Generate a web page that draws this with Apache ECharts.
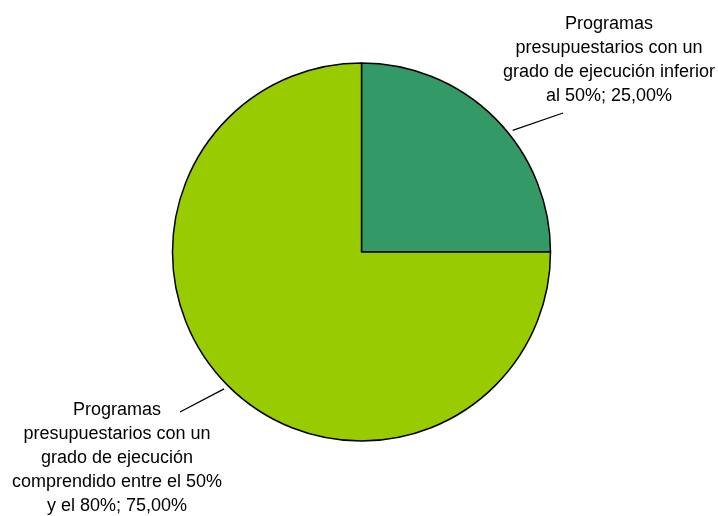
<!DOCTYPE html>
<html>
<head>
<meta charset="utf-8">
<script src="https://cdn.jsdelivr.net/npm/echarts@6/dist/echarts.min.js"></script>
<style>html,body{margin:0;padding:0;background:#fff;}#c{width:718px;height:516px;}</style>
</head>
<body>
<div id="c"></div>
<script>
const categories = [
  'Programas\npresupuestarios con un\ngrado de ejecución inferior\nal 50%',
  'Programas\npresupuestarios con un\ngrado de ejecución\ncomprendido entre el 50%\ny el 80%'
];
const values = [25.00, 75.00];
const colors = ['#339966', '#99CC00'];

const CENTER = [361.5, 252];
const RADIUS = 189;
// label placement (centre of text block) and leader line geometry
const labelPos = [
  { x: 609, y: 60, angle: 38.8, end: [563, 113] },
  { x: 117, y: 458, angle: 224.9, end: [180, 412] }
];

function edgePoint(angleDeg, off) {
  const a = angleDeg * Math.PI / 180;
  return [CENTER[0] + (RADIUS + off) * Math.cos(a), CENTER[1] - (RADIUS + off) * Math.sin(a)];
}

const chart = echarts.init(document.getElementById('c'));
chart.setOption({
  animation: false,
  series: [{
    type: 'pie',
    center: CENTER,
    radius: RADIUS,
    startAngle: 90,
    clockwise: true,
    data: categories.map((n, i) => ({ name: n, value: values[i], itemStyle: { color: colors[i] } })),
    itemStyle: { borderColor: '#000', borderWidth: 1.5 },
    emphasis: { disabled: true },
    label: {
      show: true,
      position: 'outside',
      formatter: p => p.name + '; ' + p.value.toFixed(2).replace('.', ',') + '%',
      fontFamily: 'Liberation Sans, Arial, sans-serif',
      fontSize: 18,
      lineHeight: 24,
      color: '#000',
      align: 'center',
      width: 260,
      overflow: 'none'
    },
    labelLine: {
      show: true,
      length: 20,
      length2: 0,
      lineStyle: { color: '#000', width: 1.3 }
    },
    labelLayout: function (params) {
      const p = labelPos[params.dataIndex];
      return {
        x: p.x, y: p.y, align: 'center', verticalAlign: 'middle',
        labelLinePoints: [edgePoint(p.angle, 5), p.end]
      };
    }
  }]
});
</script>
</body>
</html>
